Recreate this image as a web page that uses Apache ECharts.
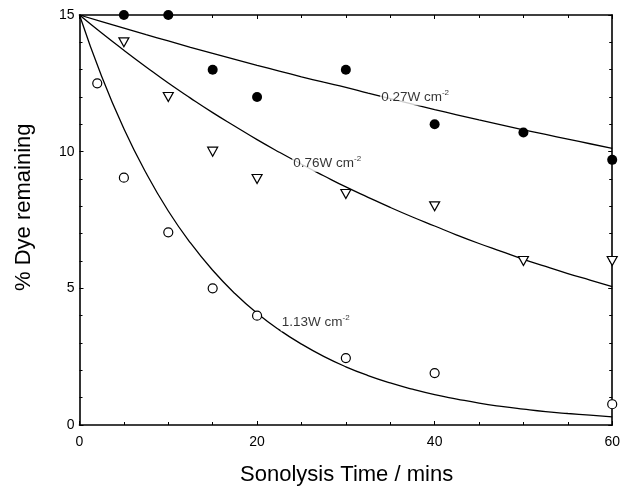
<!DOCTYPE html>
<html>
<head>
<meta charset="utf-8">
<script src="https://cdn.jsdelivr.net/npm/echarts@6/dist/echarts.min.js"></script>
<style>
html,body{margin:0;padding:0;background:#fff;}
#chart{width:623px;height:504px;}
</style>
</head>
<body>
<div id="chart"></div>
<script>
// measured points
var times27 = [5, 10, 15, 20, 30, 40, 50, 60];
var dye27 = [15, 15, 13, 12, 13, 11, 10.7, 9.7];
var times76 = [5, 10, 15, 20, 30, 40, 50, 60];
var dye76 = [14, 12, 10, 9, 8.45, 8, 6, 6];
var times113 = [2, 5, 10, 15, 20, 30, 40, 60];
var dye113 = [12.5, 9.05, 7.05, 5, 4, 2.45, 1.9, 0.76];

// fitted curves, every 2.5 mins
var fitTimes = [0, 2.5, 5, 7.5, 10, 12.5, 15, 17.5, 20, 22.5, 25, 27.5, 30,
  32.5, 35, 37.5, 40, 42.5, 45, 47.5, 50, 52.5, 55, 57.5, 60];
var fit27 = [15, 14.76, 14.52, 14.28, 14.05, 13.82, 13.6, 13.38, 13.16, 12.95, 12.74, 12.54, 12.35,
  12.14, 11.94, 11.74, 11.54, 11.35, 11.16, 10.98, 10.8, 10.63, 10.46, 10.29, 10.12];
var fit76 = [15, 14.34, 13.71, 13.1, 12.51, 11.96, 11.43, 10.93, 10.44, 9.98, 9.54, 9.12, 8.71,
  8.33, 7.96, 7.61, 7.28, 6.95, 6.64, 6.35, 6.06, 5.8, 5.54, 5.3, 5.06];
var fit113 = [15, 12.75, 10.84, 9.22, 7.83, 6.66, 5.66, 4.81, 4.09, 3.48, 2.96, 2.51, 2.13,
  1.81, 1.54, 1.31, 1.11, 0.95, 0.8, 0.68, 0.58, 0.49, 0.42, 0.36, 0.3];

var xTicks = [0, 20, 40, 60];
var yTicks = [0, 5, 10, 15];

var curveNames = ['0.27W cm', '0.76W cm', '1.13W cm'];

function pairs(xs, ys) {
  var out = [];
  for (var i = 0; i < xs.length; i++) out.push([xs[i], ys[i]]);
  return out;
}

var lineStyle = {color: '#000', width: 1.3};

var option = {
  animation: false,
  backgroundColor: '#fff',
  grid: {left: 79.5, right: 9, top: 15, bottom: 79},
  xAxis: [
    {
      type: 'value', min: 0, max: 60, interval: 20,
      axisLine: {lineStyle: {color: '#000', width: 1.6}},
      axisTick: {inside: true, length: 4, lineStyle: {color: '#000'}},
      minorTick: {show: true, splitNumber: 4, length: 3, lineStyle: {color: '#000'}},
      splitLine: {show: false},
      axisLabel: {color: '#000', fontSize: 14, fontFamily: 'Liberation Sans', margin: 10,
        formatter: function (v) { return xTicks.indexOf(v) >= 0 ? v : ''; }}
    },
    {
      type: 'value', min: 0, max: 60, interval: 20, position: 'top',
      axisLine: {show: true, onZero: false, lineStyle: {color: '#000', width: 1.6}},
      axisTick: {inside: true, length: 4, lineStyle: {color: '#000'}},
      minorTick: {show: true, splitNumber: 4, length: 3, lineStyle: {color: '#000'}},
      splitLine: {show: false},
      axisLabel: {show: false}
    }
  ],
  yAxis: [
    {
      type: 'value', min: 0, max: 15, interval: 5,
      axisLine: {show: true, lineStyle: {color: '#000', width: 1.6}},
      axisTick: {show: true, inside: true, length: 4, lineStyle: {color: '#000'}},
      minorTick: {show: true, splitNumber: 5, length: 3, lineStyle: {color: '#000'}},
      splitLine: {show: false},
      axisLabel: {color: '#000', fontSize: 14, fontFamily: 'Liberation Sans', margin: 5,
        formatter: function (v) { return yTicks.indexOf(v) >= 0 ? v : ''; }}
    },
    {
      type: 'value', min: 0, max: 15, interval: 5, position: 'right',
      axisLine: {show: true, onZero: false, lineStyle: {color: '#000', width: 1.6}},
      axisTick: {show: true, inside: true, length: 4, lineStyle: {color: '#000'}},
      minorTick: {show: true, splitNumber: 5, length: 3, lineStyle: {color: '#000'}},
      splitLine: {show: false},
      axisLabel: {show: false}
    }
  ],
  graphic: [
    {type: 'text', left: 240, top: 464,
      style: {text: 'Sonolysis Time / mins', fill: '#000', font: '22px "Liberation Sans", Arial'}},
    {type: 'text', x: 13, y: 291, rotation: Math.PI / 2, originX: 0, originY: 0,
      style: {text: '% Dye remaining', fill: '#000', font: '22px "Liberation Sans", Arial',
        textVerticalAlign: 'top'}}
  ],
  series: [
    {type: 'line', data: pairs(fitTimes, fit27), smooth: true, showSymbol: false, lineStyle: lineStyle, z: 2},
    {type: 'line', data: pairs(fitTimes, fit76), smooth: true, showSymbol: false, lineStyle: lineStyle, z: 2},
    {type: 'line', data: pairs(fitTimes, fit113), smooth: true, showSymbol: false, lineStyle: lineStyle, z: 2},
    {type: 'scatter', data: pairs(times27, dye27), symbol: 'circle', symbolSize: 10,
      itemStyle: {color: '#000', opacity: 1}, z: 3},
    {type: 'scatter', data: pairs(times76, dye76), symbol: 'triangle', symbolSize: [10, 9], symbolRotate: 180,
      itemStyle: {color: '#fff', borderColor: '#000', borderWidth: 1.2, opacity: 1}, z: 3},
    {type: 'scatter', data: pairs(times113, dye113), symbol: 'circle', symbolSize: 9,
      itemStyle: {color: '#fff', borderColor: '#000', borderWidth: 1.2, opacity: 1}, z: 3},
    {
      type: 'scatter', symbolSize: 0, z: 4, silent: true,
      data: [[37.8, 12.0], [27.9, 9.58], [26.6, 3.74]],
      label: {
        show: true, position: 'inside', color: '#000',
        backgroundColor: '#fff', padding: [0, 1],
        formatter: function (p) { return '{a|' + curveNames[p.dataIndex] + '}{s|-2}'; },
        rich: {
          a: {fontSize: 13.5, color: '#000', fontFamily: 'Liberation Sans', textBorderWidth: 0},
          s: {fontSize: 8, color: '#000', fontFamily: 'Liberation Sans', padding: [0, 0, 9, 0], textBorderWidth: 0}
        }
      }
    }
  ]
};

var chart = echarts.init(document.getElementById('chart'));
chart.setOption(option);
</script>
</body>
</html>
